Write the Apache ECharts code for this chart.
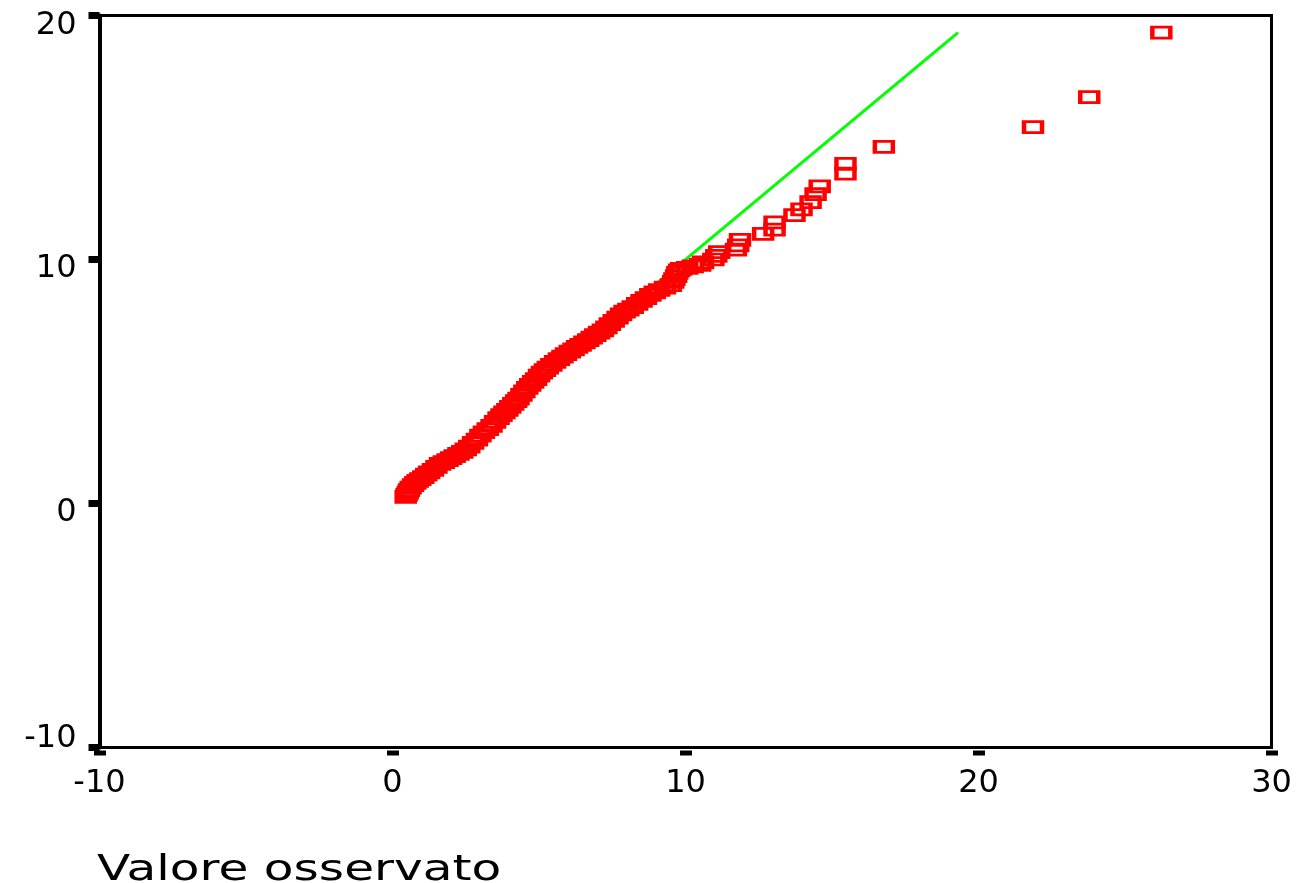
<!DOCTYPE html>
<html>
<head>
<meta charset="utf-8">
<script src="https://cdn.jsdelivr.net/npm/echarts@6/dist/echarts.min.js"></script>
<style>
html,body{margin:0;padding:0;background:#fff;}
#chart{width:1299px;height:883px;}
</style>
</head>
<body>
<div id="chart"></div>
<script>
var observed = [
  0.45,0.48,0.52,0.56,0.62,0.70,0.78,0.86,0.95,1.05,1.15,1.25,1.38,1.50,1.62,1.75,1.88,2.00,2.12,2.25,
  2.38,2.50,2.62,2.75,2.88,3.00,3.12,3.25,3.38,3.50,3.62,3.72,3.82,3.92,4.02,4.12,4.22,4.30,4.40,4.50,
  4.60,4.70,4.80,4.90,5.00,5.10,5.20,5.30,5.42,5.55,5.68,5.80,5.92,6.05,6.18,6.30,6.42,6.55,6.68,6.80,
  6.92,7.05,7.18,7.30,7.42,7.55,7.68,7.80,7.92,8.05,8.20,8.35,8.50,8.65,8.80,8.95,9.10,9.30,9.50,9.58,
  9.62,9.68,9.72,9.78,9.85,10.06,10.25,10.50,10.60,10.95,11.05,11.15,11.72,11.80,11.86,12.65,13.04,13.04,13.72,13.96,
  14.27,14.44,14.58,15.46,15.46,16.77,21.86,23.78,26.24
];
var expected = [
  0.27,0.35,0.45,0.55,0.65,0.75,0.85,0.93,1.00,1.08,1.18,1.28,1.38,1.50,1.62,1.70,1.78,1.86,1.94,2.03,
  2.12,2.22,2.33,2.48,2.62,2.78,2.92,3.05,3.18,3.35,3.50,3.62,3.73,3.84,3.96,4.08,4.20,4.30,4.45,4.60,
  4.74,4.86,4.98,5.10,5.24,5.36,5.47,5.57,5.68,5.80,5.92,6.02,6.12,6.22,6.32,6.42,6.50,6.60,6.70,6.80,
  6.90,7.00,7.10,7.22,7.35,7.48,7.62,7.75,7.86,7.95,8.05,8.18,8.30,8.42,8.55,8.65,8.75,8.85,8.95,9.08,
  9.20,9.32,9.45,9.55,9.62,9.66,9.72,9.78,9.88,10.00,10.15,10.30,10.40,10.58,10.80,11.05,11.22,11.52,11.82,12.05,
  12.35,12.68,13.00,13.52,13.92,14.62,15.43,16.65,19.30
];
// Reference line (y = x) end points
var refLine = [[0.27,0.27],[19.30,19.30]];
var xTicks = [-10, 0, 10, 20, 30];
var yTicks = [-10, 0, 10, 20];
var xTitle = 'Valore osservato';

var points = observed.map(function(v, i){ return [v, expected[i]]; });
var FONT = 'DejaVu Sans';
var LBL = 32;

var chart = echarts.init(document.getElementById('chart'));
chart.setOption({
  animation: false,
  backgroundColor: '#fff',
  graphic: [{
    type: 'text', x: 97, y: 853, scaleX: 1.35, scaleY: 1,
    style: {text: xTitle, fill: '#000', font: '36px "DejaVu Sans"', textVerticalAlign: 'top', verticalAlign: 'top'}
  }],
  grid: {
    left: 99.5, right: 27.5, top: 15.5, bottom: 135.5,
    show: true, borderColor: '#000', borderWidth: 3, backgroundColor: 'transparent'
  },
  xAxis: [{
    type: 'value', min: xTicks[0], max: xTicks[xTicks.length-1], interval: 10,
    axisLine: {show: true, onZero: false, lineStyle: {color: '#000', width: 3}},
    axisTick: {show: false}, axisLabel: {show: false}, splitLine: {show: false}
  }, {
    type: 'value', position: 'bottom', offset: 3,
    min: xTicks[0], max: xTicks[xTicks.length-1], interval: 10,
    axisLine: {show: false, onZero: false},
    axisTick: {show: true, length: 5, lineStyle: {color: '#000', width: 12}},
    axisLabel: {show: true, margin: 17, fontSize: LBL, fontFamily: FONT, color: '#000'},
    splitLine: {show: false}
  }],
  yAxis: {
    type: 'value', min: yTicks[0], max: yTicks[yTicks.length-1], interval: 10,
    axisLine: {show: true, onZero: false, lineStyle: {color: '#000', width: 4}},
    axisTick: {show: true, length: 11, lineStyle: {color: '#000', width: 7}},
    axisLabel: {
      show: true, margin: 23, fontSize: LBL, fontFamily: FONT, color: '#000',
      formatter: function(v){
        if (v === yTicks[yTicks.length-1]) return '{t|' + v + '}';
        if (v === yTicks[0]) return '{b|' + v + '}';
        return '{n|' + v + '}';
      },
      rich: {
        n: {fontSize: LBL, fontFamily: FONT, color: '#000', padding: [18,0,0,0]},
        t: {fontSize: LBL, fontFamily: FONT, color: '#000', padding: [21,0,0,0]},
        b: {fontSize: LBL, fontFamily: FONT, color: '#000', padding: [0,0,18,0]}
      }
    },
    splitLine: {show: false}
  },
  series: [{
    type: 'line', data: refLine, xAxisIndex: 0, symbol: 'none', z: 1,
    lineStyle: {color: '#00ff00', width: 3}
  }, {
    type: 'scatter', data: points, xAxisIndex: 0, z: 2,
    symbol: 'rect', symbolSize: [18, 11],
    itemStyle: {color: 'rgba(0,0,0,0)', borderColor: '#ff0000', borderWidth: 3.5, opacity: 1}
  }]
});
</script>
</body>
</html>
